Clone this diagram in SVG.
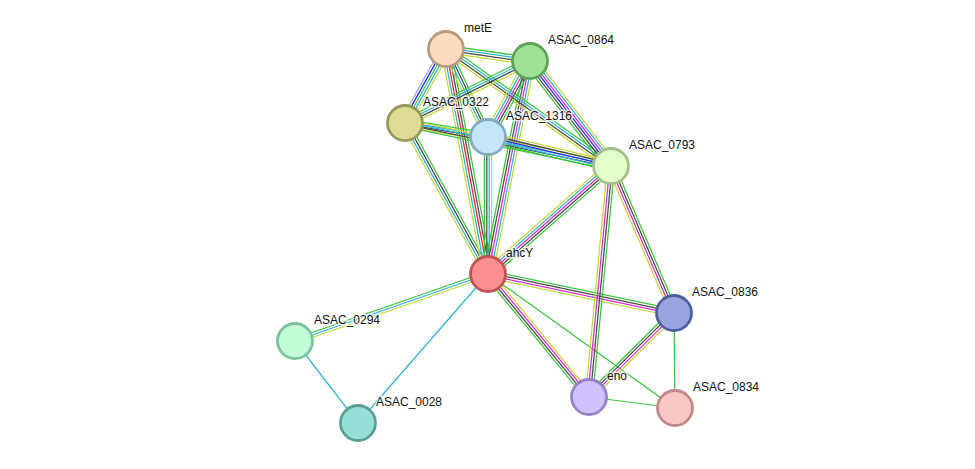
<svg xmlns="http://www.w3.org/2000/svg" width="975" height="469" viewBox="0 0 975 469">
<style>
line{stroke-width:1.25;fill:none;vector-effect:non-scaling-stroke}
.g{stroke:#3cc43c}.c{stroke:#2fb3d8}.y{stroke:#c4d83a}.k{stroke:#4a4a4a}.m{stroke:#dd2ed9}.r{stroke:#ee2020}.b{stroke:#2424e8}.h{stroke:#a3a3f0}
circle{stroke-width:2.8}
text{font-family:"Liberation Sans",Arial,sans-serif;font-size:12px;fill:#111;stroke:#fff;stroke-width:3;stroke-opacity:0.75;paint-order:stroke;stroke-linejoin:round}
</style>
<rect width="975" height="469" fill="#fff"/>
<g id="connectors">
<g transform="translate(295 341) rotate(-19.14) scale(1 1.2)"><line x2="204.3" y1="-2" y2="-2" class="g"/><line x2="204.3" class="c"/><line x2="204.3" y1="2" y2="2" class="y"/></g>
<g transform="translate(358 423) rotate(-48.9)"><line x2="197.7" class="c"/></g>
<g transform="translate(295 341) rotate(52.46)"><line x2="103.4" class="c"/></g>
<g transform="translate(488 274) rotate(50.6) scale(1 1.2)"><line x2="159.2" y1="-3" y2="-3" class="y"/><line x2="159.2" y1="-1" y2="-1" class="m"/><line x2="159.2" y1="1" y2="1" class="k"/><line x2="159.2" y1="3" y2="3" class="g"/></g>
<g transform="translate(488 274) rotate(11.84) scale(1 1.2)"><line x2="190" y1="-3" y2="-3" class="g"/><line x2="190" y1="-1" y2="-1" class="k"/><line x2="190" y1="1" y2="1" class="m"/><line x2="190" y1="3" y2="3" class="y"/></g>
<g transform="translate(488 274) rotate(35.62)"><line x2="230.1" class="g"/></g>
<g transform="translate(589 397) rotate(-44.66) scale(1 1.2)"><line x2="119.5" y1="-3" y2="-3" class="g"/><line x2="119.5" y1="-1" y2="-1" class="k"/><line x2="119.5" y1="1" y2="1" class="m"/><line x2="119.5" y1="3" y2="3" class="y"/></g>
<g transform="translate(589 397) rotate(7.29)"><line x2="86.7" class="g"/></g>
<g transform="translate(674 313) rotate(89.4)"><line x2="95" class="g"/></g>
<g transform="translate(611 166) rotate(95.44) scale(1 1.2)"><line x2="232" y1="3" y2="3" class="y"/><line x2="232" y1="1" y2="1" class="m"/><line x2="232" y1="-1" y2="-1" class="k"/><line x2="232" y1="-3" y2="-3" class="g"/></g>
<g transform="translate(611 166) rotate(66.8) scale(1 1.2)"><line x2="159.9" y1="3" y2="3" class="y"/><line x2="159.9" y1="1" y2="1" class="m"/><line x2="159.9" y1="-1" y2="-1" class="k"/><line x2="159.9" y1="-3" y2="-3" class="g"/></g>
<g transform="translate(488 274) rotate(-41.28) scale(1 1.2)"><line x2="163.7" y1="-4" y2="-4" class="y"/><line x2="163.7" y1="-2" y2="-2" class="c"/><line x2="163.7" class="m"/><line x2="163.7" y1="2" y2="2" class="k"/><line x2="163.7" y1="4" y2="4" class="g"/></g>
<g transform="translate(405 123) rotate(61.2) scale(1 1.2)"><line x2="172.3" y1="3" y2="3" class="y"/><line x2="172.3" y1="1" y2="1" class="c"/><line x2="172.3" y1="-1" y2="-1" class="k"/><line x2="172.3" y1="-3" y2="-3" class="g"/></g>
<g transform="translate(446 49) rotate(79.43) scale(1 1.2)"><line x2="228.9" y1="4" y2="4" class="y"/><line x2="228.9" y1="2" y2="2" class="c"/><line x2="228.9" class="r"/><line x2="228.9" y1="-2" y2="-2" class="k"/><line x2="228.9" y1="-4" y2="-4" class="g"/></g>
<g transform="translate(488 137) rotate(90) scale(1 1.2)"><line x2="137" y1="3" y2="3" class="g"/><line x2="137" y1="1" y2="1" class="k"/><line x2="137" y1="-1" y2="-1" class="c"/><line x2="137" y1="-3" y2="-3" class="y"/></g>
<g transform="translate(530 61) rotate(101.15) scale(1 1.2)"><line x2="217.1" y1="4" y2="4" class="g"/><line x2="217.1" y1="2" y2="2" class="k"/><line x2="217.1" class="m"/><line x2="217.1" y1="-2" y2="-2" class="c"/><line x2="217.1" y1="-4" y2="-4" class="y"/></g>
<g transform="translate(446 49) rotate(119) scale(1 1.2)"><line x2="84.6" y1="4" y2="4" class="h"/><line x2="84.6" y1="2" y2="2" class="b"/><line x2="84.6" class="g"/><line x2="84.6" y1="-2" y2="-2" class="c"/><line x2="84.6" y1="-4" y2="-4" class="y"/></g>
<g transform="translate(446 49) rotate(8.13) scale(1 1.2)"><line x2="84.9" y1="-3" y2="-3" class="g"/><line x2="84.9" y1="-1" y2="-1" class="c"/><line x2="84.9" y1="1" y2="1" class="k"/><line x2="84.9" y1="3" y2="3" class="y"/></g>
<g transform="translate(446 49) rotate(64.5) scale(1 1.2)"><line x2="97.5" y1="3" y2="3" class="y"/><line x2="97.5" y1="1" y2="1" class="c"/><line x2="97.5" y1="-1" y2="-1" class="k"/><line x2="97.5" y1="-3" y2="-3" class="g"/></g>
<g transform="translate(446 49) rotate(35.34) scale(1 1.2)"><line x2="202.3" y1="-3" y2="-3" class="g"/><line x2="202.3" y1="-1" y2="-1" class="c"/><line x2="202.3" y1="1" y2="1" class="k"/><line x2="202.3" y1="3" y2="3" class="y"/></g>
<g transform="translate(405 123) rotate(-26.38) scale(1 1.2)"><line x2="139.5" y1="-3" y2="-3" class="g"/><line x2="139.5" y1="-1" y2="-1" class="c"/><line x2="139.5" y1="1" y2="1" class="k"/><line x2="139.5" y1="3" y2="3" class="y"/></g>
<g transform="translate(405 123) rotate(9.57) scale(1 1.2)"><line x2="84.2" y1="-3" y2="-3" class="g"/><line x2="84.2" y1="-1" y2="-1" class="c"/><line x2="84.2" y1="1" y2="1" class="k"/><line x2="84.2" y1="3" y2="3" class="y"/></g>
<g transform="translate(405 123) rotate(11.79) scale(1 1.2)"><line x2="210.4" y1="-3" y2="-3" class="y"/><line x2="210.4" y1="-1" y2="-1" class="c"/><line x2="210.4" y1="1" y2="1" class="k"/><line x2="210.4" y1="3" y2="3" class="g"/></g>
<g transform="translate(488 137) rotate(-61.07) scale(1 1.2)"><line x2="86.8" y1="4" y2="4" class="g"/><line x2="86.8" y1="2" y2="2" class="k"/><line x2="86.8" class="m"/><line x2="86.8" y1="-2" y2="-2" class="c"/><line x2="86.8" y1="-4" y2="-4" class="y"/></g>
<g transform="translate(488 137) rotate(13.27) scale(1 1.2)"><line x2="126.4" y1="-4" y2="-4" class="y"/><line x2="126.4" y1="-2" y2="-2" class="k"/><line x2="126.4" class="b"/><line x2="126.4" y1="2" y2="2" class="c"/><line x2="126.4" y1="4" y2="4" class="g"/></g>
<g transform="translate(530 61) rotate(52.35) scale(1 1.2)"><line x2="132.6" y1="5" y2="5" class="g"/><line x2="132.6" y1="3" y2="3" class="k"/><line x2="132.6" y1="1" y2="1" class="b"/><line x2="132.6" y1="-1" y2="-1" class="m"/><line x2="132.6" y1="-3" y2="-3" class="c"/><line x2="132.6" y1="-5" y2="-5" class="y"/></g>
</g>
<g id="metE"><circle cx="446" cy="49" r="17.5" fill="#fddcbd" stroke="#b99a7e"/><text x="464" y="32">metE</text></g>
<g id="ASAC_0864"><circle cx="530" cy="61" r="17.5" fill="#a0e097" stroke="#5ea357"/><text x="548" y="44">ASAC_0864</text></g>
<g id="ASAC_0322"><circle cx="405" cy="123" r="17.5" fill="#dcdc96" stroke="#9a9a58"/><text x="423" y="106">ASAC_0322</text></g>
<g id="ASAC_1316"><circle cx="488" cy="137" r="17.5" fill="#c3e6fb" stroke="#86aac4"/><text x="506" y="120">ASAC_1316</text></g>
<g id="ASAC_0793"><circle cx="611" cy="166" r="17.5" fill="#e4ffc8" stroke="#a3c08a"/><text x="629" y="149">ASAC_0793</text></g>
<g id="ahcY"><circle cx="488" cy="274" r="17.5" fill="#fa8f8f" stroke="#c05555"/><text x="506" y="257">ahcY</text></g>
<g id="ASAC_0836"><circle cx="674" cy="313" r="17.5" fill="#98a5e0" stroke="#50609e"/><text x="692" y="296">ASAC_0836</text></g>
<g id="ASAC_0294"><circle cx="295" cy="341" r="17.5" fill="#c2fcd8" stroke="#7cc29c"/><text x="314" y="324">ASAC_0294</text></g>
<g id="ASAC_0028"><circle cx="358" cy="423" r="17.5" fill="#97e0d8" stroke="#5a9e96"/><text x="376" y="406">ASAC_0028</text></g>
<g id="eno"><circle cx="589" cy="397" r="17.5" fill="#d2c2fb" stroke="#9682c6"/><text x="607" y="380">eno</text></g>
<g id="ASAC_0834"><circle cx="675" cy="408" r="17.5" fill="#f8c6c6" stroke="#c08888"/><text x="693" y="391">ASAC_0834</text></g>
</svg>
